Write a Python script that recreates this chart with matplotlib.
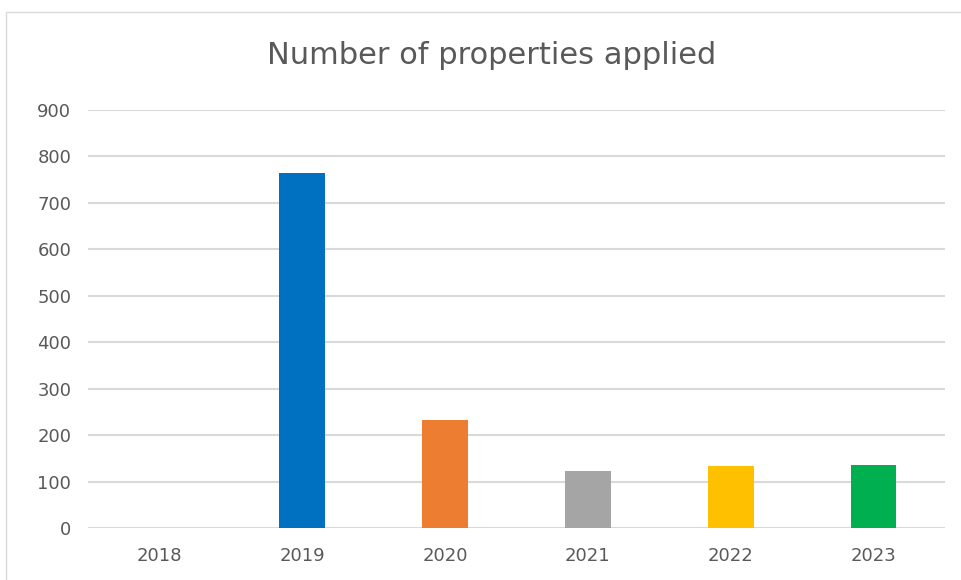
import matplotlib.pyplot as plt
from matplotlib.patches import Rectangle

years = ['2018', '2019', '2020', '2021', '2022', '2023']
counts = [0, 764, 233, 123, 134, 136]
colors = ['#4472C4', '#0070C0', '#ED7D31', '#A5A5A5', '#FFC000', '#00B050']

plt.rcParams['font.family'] = ['DejaVu Sans']

fig = plt.figure(figsize=(9.62, 5.8), dpi=100)
# chart border like in Excel
fig.patches.append(Rectangle((6 / 962, -0.01), 1.0, 1 - 12 / 580 + 0.01,
                             transform=fig.transFigure, fill=False,
                             edgecolor='#D9D9D9', linewidth=1))

ax = fig.add_axes([88 / 962, 1 - 528 / 580, 857 / 962, 418 / 580])
x = range(len(years))
ax.bar(x, counts, width=0.32, color=colors, zorder=3)

ax.set_xlim(-0.5, len(years) - 0.5)
ax.set_ylim(0, 900)
ax.set_yticks(range(0, 901, 100))
ax.set_xticks(list(x))
ax.set_xticklabels(years)
ax.grid(axis='y', color='#D9D9D9', linewidth=1.5, zorder=0)
ax.tick_params(length=0, labelsize=13, colors='#595959', pad=12)
ax.tick_params(axis='x', pad=14)
for s in ax.spines.values():
    s.set_visible(False)

fig.text(492 / 962, 1 - 56 / 580, 'Number of properties applied',
         ha='center', va='center', fontsize=22, color='#595959')

plt.savefig('out.png', dpi=100)
